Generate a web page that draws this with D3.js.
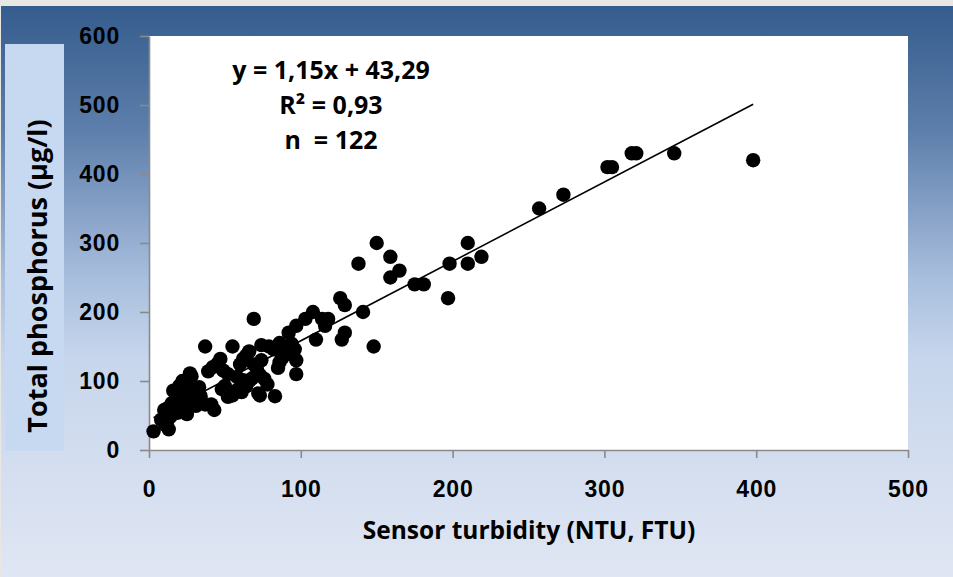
<!DOCTYPE html>
<html>
<head>
<meta charset="utf-8">
<script src="https://cdn.jsdelivr.net/npm/d3@7"></script>
<style>
  body { margin: 0; background: #fff; }
  svg { display: block; font-family: "Open Sans", sans-serif; }
  .axis path, .axis line { stroke: #8a8a8a; stroke-width: 1.6; }
  .axis text { font-size: 23px; font-weight: bold; fill: #000; letter-spacing: 0.8px; }
</style>
</head>
<body>
<svg width="953" height="577"></svg>
<script>
// turbidity (x) vs total phosphorus (y)
const turbidity = [
  398, 346, 318, 321, 302, 305, 273, 257, 219, 210, 210, 198, 197, 181, 175, 165, 159, 159, 150, 138,
  141, 148, 126, 129, 129, 127, 118, 114, 116, 108, 103, 97, 92, 110, 97, 97, 69,
  3, 13, 11, 8, 12, 14, 10, 13, 15, 17, 19, 21, 23, 25, 26, 23, 28, 31, 34, 37,
  41, 43, 15, 18, 22, 25, 28, 31, 34, 16, 19, 23, 27, 30, 24, 22, 28, 27, 20, 33,
  37, 55, 39, 42, 45, 47, 49, 52, 48, 50, 52, 55, 58, 61, 58, 62, 60, 62, 64, 66,
  66, 68, 71, 73, 69, 72, 73, 78, 83, 74, 74, 79, 82, 86, 94, 90, 96, 87, 85, 86,
  88, 92, 95, 64, 76
];
const phosphorus = [
  420, 430, 430, 430, 410, 410, 370, 350, 280, 300, 270, 270, 220, 240, 240, 260, 280, 250, 300, 270,
  200, 150, 220, 210, 170, 160, 190, 190, 180, 200, 190, 180, 170, 160, 130, 110, 190,
  27, 30, 36, 44, 42, 48, 58, 62, 55, 60, 54, 63, 57, 52, 61, 67, 66, 64, 69, 66,
  66, 58, 68, 76, 72, 79, 74, 82, 78, 86, 88, 84, 89, 86, 96, 100, 107, 111, 93, 91,
  150, 150, 114, 120, 125, 132, 115, 110, 88, 93, 77, 79, 87, 84, 106, 101, 124, 132, 137, 143,
  100, 104, 118, 109, 124, 82, 79, 95, 78, 130, 152, 150, 146, 155, 154, 150, 146, 140, 119, 127,
  134, 143, 138, 92, 103
];
const xTicks = [0, 100, 200, 300, 400, 500];
const yTicks = [0, 100, 200, 300, 400, 500, 600];
const fitSlope = 1.15, fitIntercept = 43.29;
const statLines = ["y = 1,15x + 43,29", "R\u00b2 = 0,93", "n  = 122"];

const svg = d3.select("svg");
const defs = svg.append("defs");
const grad = defs.append("linearGradient").attr("id", "bg")
  .attr("x1", 0).attr("y1", 0).attr("x2", 0).attr("y2", 1);
grad.append("stop").attr("offset", "0%").attr("stop-color", "#345c8d");
grad.append("stop").attr("offset", "22%").attr("stop-color", "#5e7fab");
grad.append("stop").attr("offset", "48%").attr("stop-color", "#a9bfde");
grad.append("stop").attr("offset", "62%").attr("stop-color", "#c7d6ec");
grad.append("stop").attr("offset", "100%").attr("stop-color", "#e0e6f3");

// frame
svg.append("rect").attr("width", 953).attr("height", 577).attr("fill", "#e9e7e4");
svg.append("rect").attr("x", 1).attr("y", 6).attr("width", 952).attr("height", 571).attr("fill", "url(#bg)");

const x = d3.scaleLinear().domain([0, 500]).range([149, 908]);
const y = d3.scaleLinear().domain([0, 600]).range([450, 36]);

svg.append("rect")
  .attr("x", x(0)).attr("y", y(600))
  .attr("width", x(500) - x(0)).attr("height", y(0) - y(600))
  .attr("fill", "#fff");

// axes
svg.append("g").attr("class", "axis")
  .attr("transform", "translate(" + x(0) + ",0)")
  .call(d3.axisLeft(y).tickValues(yTicks).tickFormat(d3.format("d"))
    .tickSize(9).tickSizeOuter(0).tickPadding(20));

const gx = svg.append("g").attr("class", "axis")
  .attr("transform", "translate(0," + y(0) + ")")
  .call(d3.axisBottom(x).tickValues(xTicks).tickFormat(d3.format("d"))
    .tickSize(8).tickSizeOuter(0));
gx.selectAll("text").attr("y", 47).attr("dy", 0);

// trend line
const fitX = [d3.min(turbidity), d3.max(turbidity)];
svg.append("path")
  .datum(fitX)
  .attr("d", d3.line().x(d => x(d)).y(d => y(fitSlope * d + fitIntercept)))
  .attr("stroke", "#000").attr("stroke-width", 1.6).attr("fill", "none");

// points
svg.append("g").selectAll("circle")
  .data(d3.range(turbidity.length))
  .enter().append("circle")
  .attr("cx", i => x(turbidity[i]))
  .attr("cy", i => y(phosphorus[i]))
  .attr("r", 7.2)
  .attr("fill", "#000");

// equation
svg.append("g").selectAll("text")
  .data(statLines)
  .enter().append("text")
  .attr("x", 331)
  .attr("y", (d, i) => 79 + i * 35)
  .attr("text-anchor", "middle")
  .style("white-space", "pre")
  .style("font-size", "25px").style("font-weight", "bold")
  .text(d => d);

// y title box
svg.append("rect").attr("x", 5).attr("y", 44).attr("width", 59).attr("height", 407)
  .attr("fill", "#c6d9f0");
svg.append("text")
  .attr("transform", "translate(47,276) rotate(-90)")
  .attr("text-anchor", "middle")
  .style("font-size", "27px").style("font-weight", "bold")
  .text("Total phosphorus (\u00b5g/l)");

svg.append("text")
  .attr("x", 529).attr("y", 539)
  .attr("text-anchor", "middle")
  .style("font-size", "24.5px").style("font-weight", "bold")
  .text("Sensor turbidity (NTU, FTU)");
</script>
</body>
</html>
